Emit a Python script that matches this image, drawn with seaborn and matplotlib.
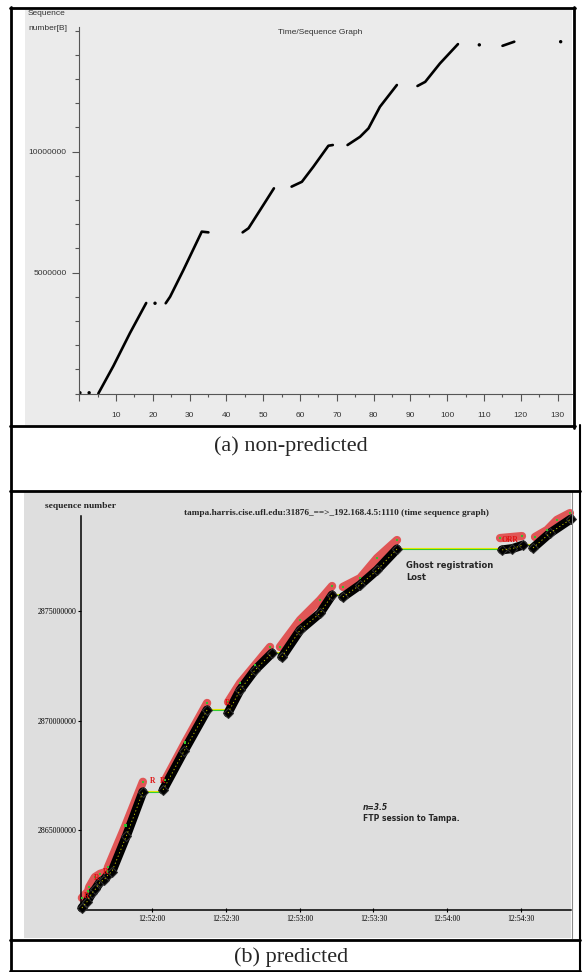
import seaborn as sns
import matplotlib.pyplot as plt
import matplotlib.ticker as mticker
from matplotlib.lines import Line2D
from matplotlib.patches import Rectangle
import pandas as pd

W, H = 583, 972

# ---- (a) non-predicted : time [s] vs sequence number [million bytes]
a_time = [5.2, 9.3, 13.8, 18.2,
          23.5, 24.7, 28.3, 33.3, 35.1,
          44.4, 46.0, 50.9, 52.9,
          57.7, 60.5, 63.6, 67.7, 68.9,
          72.9, 76.3, 78.6, 81.7, 86.3,
          91.9, 94.0, 98.0, 102.9,
          115.0, 118.2]
a_seq = [0.0, 1.14, 2.5, 3.74,
         3.73, 4.0, 5.1, 6.69, 6.66,
         6.66, 6.83, 8.0, 8.48,
         8.55, 8.75, 9.37, 10.24, 10.27,
         10.27, 10.61, 10.96, 11.85, 12.75,
         12.71, 12.88, 13.64, 14.44,
         14.37, 14.54]
a_burst = [1] * 4 + [2] * 5 + [3] * 4 + [4] * 5 + [5] * 5 + [6] * 4 + [7] * 2
a_dot_time = [0.2, 2.7, 20.6, 108.7, 130.8]
a_dot_seq = [0.03, 0.03, 3.73, 14.41, 14.54]

# ---- (b) predicted : seconds after 12:51:00 vs sequence number [millions]
sent_time = [31.5, 33.5, 35.6, 37.0, 38.9, 40.5, 42.1, 43.7, 49.6, 56.3,
             64.5, 73.0, 82.4,
             90.9, 95.8, 101.9, 108.8,
             112.8, 120.2, 128.3, 133.2,
             137.6, 144.6, 151.5, 159.6,
             202.3, 206.5, 210.8,
             214.9, 221.8, 230.3]
sent_seq = [2861.44, 2861.71, 2862.12, 2862.30, 2862.63, 2862.72, 2862.95, 2863.10, 2864.73, 2866.74,
            2866.83, 2868.60, 2870.48,
            2870.34, 2871.39, 2872.31, 2873.08,
            2872.90, 2874.13, 2874.90, 2875.73,
            2875.64, 2876.19, 2876.87, 2877.83,
            2877.79, 2877.85, 2878.01,
            2877.88, 2878.56, 2879.20]
sent_burst = [1] * 10 + [2] * 3 + [3] * 4 + [4] * 4 + [5] * 4 + [6] * 3 + [7] * 3

pred_time = [31.5, 34.0, 34.5, 36.8, 38.9, 41.7, 42.1, 49.2, 56.3,
             65.3, 73.5, 82.4,
             90.9, 95.8, 101.9, 108.0,
             112.0, 120.2, 128.3, 133.2,
             137.6, 144.6, 151.5, 159.6,
             201.5, 210.4,
             215.7, 220.6, 224.6, 229.9]
pred_seq = [2861.90, 2862.20, 2862.40, 2862.85, 2863.00, 2863.10, 2863.30, 2865.20, 2867.20,
            2867.28, 2869.00, 2870.80,
            2870.84, 2871.71, 2872.53, 2873.36,
            2873.36, 2874.59, 2875.50, 2876.14,
            2876.10, 2876.50, 2877.42, 2878.24,
            2878.33, 2878.42,
            2878.38, 2878.70, 2879.16, 2879.47]
pred_burst = [1] * 9 + [2] * 3 + [3] * 4 + [4] * 4 + [5] * 4 + [6] * 2 + [7] * 4

retx_time = [33.4, 37.5, 41.3, 60.4, 64.5, 90.9, 205.5]
retx_seq = [2862.0, 2862.8, 2863.1, 2867.24, 2867.24, 2870.8, 2878.24]
retx_text = ["R", "R", "R", "R", "R", "R", "ORR"]

b_xticks = [60, 90, 120, 150, 180, 210]
b_yticks = [2865, 2870, 2875]

sns.set_style("white")
plt.rcParams["font.family"] = ["Liberation Sans", "DejaVu Sans"]

fig = plt.figure(figsize=(W / 100, H / 100), dpi=100, facecolor="white")


def fx(px):
    return px / W


def fy(py):
    return 1 - py / H


def axes_px(l, t, r, b):
    return fig.add_axes([fx(l), fy(b), (r - l) / W, (b - t) / H])


def hline(y, x1, x2, lw=2.0, color="black"):
    fig.add_artist(Line2D([fx(x1), fx(x2)], [fy(y), fy(y)], transform=fig.transFigure,
                          color=color, lw=lw, zorder=10))


def vline(x, y1, y2, lw=2.0, color="black"):
    fig.add_artist(Line2D([fx(x), fx(x)], [fy(y1), fy(y2)], transform=fig.transFigure,
                          color=color, lw=lw, zorder=10))


# gray screenshot backgrounds
fig.add_artist(Rectangle((fx(25), fy(425)), (572 - 25) / W, (425 - 9) / H,
                         transform=fig.transFigure, facecolor="#ebebeb", edgecolor="none",
                         zorder=-5))
fig.add_artist(Rectangle((fx(24), fy(938)), (571 - 24) / W, (938 - 492) / H,
                         transform=fig.transFigure, facecolor="#dedede", edgecolor="none",
                         zorder=-5))

# ================= panel (a)
ax = axes_px(79.2, 26.7, 571.7, 393.5)
ax.set_facecolor("none")
df_a = pd.DataFrame({"t": a_time, "seq": a_seq, "burst": a_burst})
sns.lineplot(data=df_a, x="t", y="seq", units="burst", estimator=None, color="black",
             lw=1.9, legend=False, ax=ax)
sns.scatterplot(x=a_dot_time, y=a_dot_seq, color="black", s=6, edgecolor="none", ax=ax)
for ln in ax.lines:
    ln.set_clip_on(False)
ax.set_xlim(0, 133.8)
ax.set_ylim(0, 15.16)
for s in ["top", "right"]:
    ax.spines[s].set_visible(False)
for s in ["left", "bottom"]:
    ax.spines[s].set_color("#555555")
    ax.spines[s].set_linewidth(0.8)
ax.xaxis.set_major_locator(mticker.MultipleLocator(10))
ax.xaxis.set_minor_locator(mticker.MultipleLocator(5))
ax.xaxis.set_major_formatter(mticker.FuncFormatter(lambda v, p: "" if v == 0 else f"{v:.0f}"))
ax.set_yticks([5, 10])
ax.set_yticklabels(["5000000", "10000000"])
ax.yaxis.set_minor_locator(mticker.MultipleLocator(1))
ax.tick_params(axis="x", which="major", bottom=True, direction="out", length=5, width=0.8,
               pad=8, labelsize=6, colors="#555555", labelcolor="#333333")
ax.tick_params(axis="x", which="minor", bottom=True, direction="out", length=2.5, width=0.8,
               colors="#555555")
ax.tick_params(axis="y", which="major", left=True, direction="out", length=5, width=0.8, pad=4,
               labelsize=6, colors="#555555", labelcolor="#333333")
ax.tick_params(axis="y", which="minor", left=True, direction="out", length=3, width=0.8,
               colors="#555555")
ax.set_xlabel("")
ax.set_ylabel("")

fig.text(fx(28), fy(13.5), "Sequence", fontsize=6, color="#333333", va="center")
fig.text(fx(28), fy(29), "number[B]", fontsize=6, color="#333333", va="center")
fig.text(fx(278), fy(33), "Time/Sequence Graph", fontsize=6, color="#333333", va="center")

# ================= panel (b)
bx = axes_px(81, 510, 571, 910)
bx.set_facecolor("none")
df_pred = pd.DataFrame({"t": pred_time, "seq": pred_seq, "burst": pred_burst})
df_sent = pd.DataFrame({"t": sent_time, "seq": sent_seq, "burst": sent_burst})
sns.lineplot(data=df_pred, x="t", y="seq", units="burst", estimator=None, color="#e05656",
             lw=6.0, solid_capstyle="round", legend=False, ax=bx, zorder=2)
sns.lineplot(data=df_sent, x="t", y="seq", units="burst", estimator=None, color="black",
             lw=6.5, solid_capstyle="round", marker="D", markersize=5,
             markeredgecolor="#303030", markerfacecolor="black", legend=False, ax=bx, zorder=3)
n_before = len(bx.lines)
sns.lineplot(data=df_sent, x="t", y="seq", units="burst", estimator=None, color="#d8d800",
             lw=0.6, legend=False, ax=bx, zorder=4)
for ln in bx.lines[n_before:]:
    ln.set_linestyle((0, (1.5, 3.0)))
sns.scatterplot(data=df_pred, x="t", y="seq", color="#2fc42f", marker="s", s=3,
                edgecolor="none", ax=bx, zorder=5)

# idle gaps between bursts
ends = df_sent.groupby("burst").agg(t0=("t", "first"), t1=("t", "last"), s1=("seq", "last"))
for i in range(1, len(ends)):
    prev, nxt = ends.iloc[i - 1], ends.iloc[i]
    bx.plot([prev.t1, nxt.t0], [prev.s1 + 0.04, prev.s1 + 0.04], color="#e8e800", lw=0.8, zorder=1)
    bx.plot([prev.t1, nxt.t0], [prev.s1, prev.s1], color="#33cc33", lw=0.8, zorder=1)

for t, s, lab in zip(retx_time, retx_seq, retx_text):
    bx.text(t, s, lab, color="#e01010", fontsize=5.5, fontweight="bold", ha="center",
            va="center", family="Liberation Serif", zorder=6)

for ln in bx.lines:
    ln.set_clip_on(False)
bx.set_xlim(31.14, 230.33)
bx.set_ylim(2861.347, 2879.612)
for s in ["top", "right"]:
    bx.spines[s].set_visible(False)
for s in ["left", "bottom"]:
    bx.spines[s].set_color("black")
    bx.spines[s].set_linewidth(1.1)
bx.spines["left"].set_bounds(2861.347, 2879.338)
bx.set_xticks(b_xticks)
bx.set_xticklabels([f"12:{51 + t // 60}:{t % 60:02d}" for t in b_xticks])
bx.set_yticks(b_yticks)
bx.set_yticklabels([f"{v * 1000000}" for v in b_yticks])
bx.tick_params(axis="x", bottom=True, direction="inout", length=3.5, width=0.8, pad=1.5,
               labelsize=5.5, colors="black")
bx.tick_params(axis="y", left=True, direction="out", length=2.5, width=0.8, pad=1,
               labelsize=5.7, colors="black")
for lab in bx.get_xticklabels() + bx.get_yticklabels():
    lab.set_family("Liberation Serif")
bx.set_xlabel("")
bx.set_ylabel("")

fig.text(fx(45), fy(506), "sequence number", fontsize=6.8, fontweight="bold",
         family="Liberation Serif", va="center")
fig.text(fx(336.5), fy(513), "tampa.harris.cise.ufl.edu:31876_==>_192.168.4.5:1110 (time sequence graph)",
         fontsize=6.7, fontweight="bold", family="Liberation Serif", ha="center", va="center")
fig.text(fx(406), fy(566), "Ghost registration", fontsize=6, fontweight="bold",
         family="DejaVu Sans", va="center")
fig.text(fx(406), fy(578), "Lost", fontsize=6, fontweight="bold", family="DejaVu Sans", va="center")
fig.text(fx(363), fy(807), "n=3.5", fontsize=5.5, fontweight="bold", style="italic",
         family="DejaVu Sans", va="center")
fig.text(fx(363), fy(818), "FTP session to Tampa.", fontsize=5.5, fontweight="bold",
         family="DejaVu Sans", va="center")
vline(571.5, 492, 938, lw=0.8, color="#8a8a8a")

# ================= table frame and captions
fig.text(fx(291), fy(446), "(a) non-predicted", fontsize=16, family="Liberation Serif",
         ha="center", va="center")
fig.text(fx(291), fy(957), "(b) predicted", fontsize=16, family="Liberation Serif",
         ha="center", va="center")
vline(11.2, 7, 971)
hline(8, 10, 575)
vline(573.5, 7, 428)
hline(426.5, 10, 575)
vline(579.5, 425, 971, lw=1.5)
hline(491, 10, 580)
hline(940, 10, 580)
hline(970.5, 10, 580)

fig.savefig("out.png", dpi=100, facecolor="white")
